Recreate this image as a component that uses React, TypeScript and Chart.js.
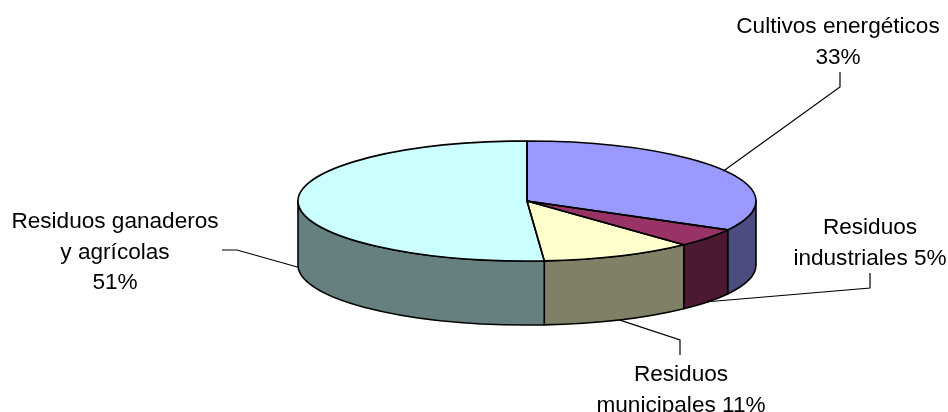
import React, { useEffect, useRef } from "react";
import { Chart, registerables } from "chart.js";

Chart.register(...registerables);

const categories = ["Cultivos energéticos", "Residuos industriales", "Residuos municipales", "Residuos ganaderos y agrícolas"];
const shares = [33, 5, 10.8, 51.2];
const topColors = ["#9999FF", "#993366", "#FFFFCC", "#CCFFFF"];
const wallColors = ["#4C4C80", "#4C1933", "#808066", "#668080"];
const labelLines = [
  ["Cultivos energéticos", "33%"],
  ["Residuos", "industriales 5%"],
  ["Residuos", "municipales 11%"],
  ["Residuos ganaderos", "y agrícolas", "51%"],
];

const CX = 527;
const CY = 201;
const RX = 229;
const RY = 60;
const DEPTH = 64;
const LINE_H = 30.5;

// label centre x, first baseline y; leader: elbow, tail; anchor on the rim (0 = top face, 1 = wall foot)
const labelLayout = [
  { x: 838, y: 33, elbow: [840, 87], tail: [840, 72], foot: 0 },
  { x: 870, y: 234, elbow: [870, 288], tail: [870, 273], foot: 1 },
  { x: 681, y: 381, elbow: [680, 340], tail: [680, 355], foot: 1 },
  { x: 115, y: 228, elbow: [237, 250], tail: [222, 250], foot: 1 },
];

const pie3d = {
  id: "pie3d",
  beforeDatasetDraw(chart: any) {
    const ctx = chart.ctx as CanvasRenderingContext2D;
    const arcs = chart.getDatasetMeta(0).data;
    ctx.save();
    ctx.lineWidth = 1.6;
    ctx.strokeStyle = "#000";
    ctx.lineJoin = "round";
    arcs.forEach((arc: any, i: number) => {
      for (const shift of [0, 2 * Math.PI]) {
        const a = Math.max(arc.startAngle, shift);
        const b = Math.min(arc.endAngle, Math.PI + shift);
        if (b <= a) continue;
        ctx.beginPath();
        ctx.ellipse(CX, CY, RX, RY, 0, a, b);
        ctx.ellipse(CX, CY + DEPTH, RX, RY, 0, b, a, true);
        ctx.closePath();
        ctx.fillStyle = wallColors[i];
        ctx.fill();
        ctx.stroke();
      }
    });
    ctx.restore();
    const first = arcs[0];
    ctx.save();
    ctx.translate(CX, CY);
    ctx.scale(RX / first.outerRadius, RY / first.outerRadius);
    ctx.translate(-first.x, -first.y);
  },
  afterDatasetDraw(chart: any) {
    const ctx = chart.ctx as CanvasRenderingContext2D;
    ctx.restore();
    const arcs = chart.getDatasetMeta(0).data;
    ctx.save();
    ctx.lineWidth = 1.6;
    ctx.strokeStyle = "#000";
    ctx.lineJoin = "round";
    arcs.forEach((arc: any) => {
      ctx.beginPath();
      ctx.moveTo(CX, CY);
      ctx.ellipse(CX, CY, RX, RY, 0, arc.startAngle, arc.endAngle);
      ctx.closePath();
      ctx.stroke();
    });
    ctx.restore();
  },
  afterDraw(chart: any) {
    const ctx = chart.ctx as CanvasRenderingContext2D;
    const arcs = chart.getDatasetMeta(0).data;
    ctx.save();
    ctx.strokeStyle = "#000";
    ctx.lineWidth = 1.2;
    ctx.fillStyle = "#000";
    ctx.font = '22.6px "Liberation Sans"';
    ctx.textAlign = "center";
    ctx.textBaseline = "alphabetic";
    arcs.forEach((arc: any, i: number) => {
      const layout = labelLayout[i];
      const mid = (arc.startAngle + arc.endAngle) / 2;
      ctx.beginPath();
      ctx.moveTo(CX + RX * Math.cos(mid), CY + RY * Math.sin(mid) + layout.foot * DEPTH);
      ctx.lineTo(layout.elbow[0], layout.elbow[1]);
      ctx.lineTo(layout.tail[0], layout.tail[1]);
      ctx.stroke();
      labelLines[i].forEach((line, k) => ctx.fillText(line, layout.x, layout.y + k * LINE_H));
    });
    ctx.restore();
  },
};

export default function App() {
  const ref = useRef<HTMLCanvasElement | null>(null);
  useEffect(() => {
    const chart = new Chart(ref.current as HTMLCanvasElement, {
      type: "pie",
      data: {
        labels: categories,
        datasets: [{ data: shares, backgroundColor: topColors, borderWidth: 0, clip: false } as any],
      },
      options: {
        animation: false,
        responsive: false,
        plugins: { legend: { display: false }, tooltip: { enabled: false } },
      },
      plugins: [pie3d],
    });
    return () => chart.destroy();
  }, []);
  return (
    <div style={{ position: "absolute", left: 0, top: 0, width: 948, height: 412, background: "#fff", overflow: "hidden" }}>
      <canvas ref={ref} width={948} height={412} style={{ display: "block" }} />
    </div>
  );
}
